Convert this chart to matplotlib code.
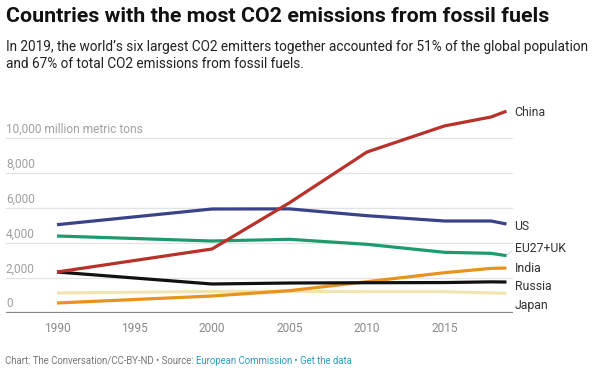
import matplotlib
matplotlib.use("Agg")
import matplotlib.pyplot as plt

plt.rcParams['font.family'] = ['Roboto', 'DejaVu Sans']

years = [1990, 2000, 2005, 2010, 2015, 2018, 2019]
china = [2343, 3657, 6300, 9200, 10690, 11200, 11535]
us = [5046, 5943, 5950, 5560, 5257, 5257, 5086]
eu = [4400, 4114, 4211, 3925, 3468, 3410, 3276]
india = [571, 971, 1276, 1790, 2303, 2550, 2570]
russia = [2343, 1657, 1714, 1730, 1740, 1780, 1771]
japan = [1143, 1230, 1240, 1219, 1220, 1150, 1126]

series = [
    ("Japan", japan, "#f3e4b4"),
    ("India", india, "#e8931e"),
    ("Russia", russia, "#111111"),
    ("EU27+UK", eu, "#1f9a6c"),
    ("US", us, "#3a4289"),
    ("China", china, "#b8312a"),
]
label_y_px = {"China": 113, "US": 226, "EU27+UK": 249, "India": 268, "Russia": 286, "Japan": 305}

yticks = [0, 2000, 4000, 6000, 8000, 10000]
ytick_labels = ["0", "2,000", "4,000", "6,000", "8,000", "10,000 million metric tons"]
xticks = [1990, 1995, 2000, 2005, 2010, 2015]

W, H = 600, 379
fig = plt.figure(figsize=(6, 3.79), dpi=100)
fig.patch.set_facecolor("white")

ax_l, ax_r, ax_t, ax_b = 6, 513, 100, 313
ax = fig.add_axes([ax_l / W, 1 - ax_b / H, (ax_r - ax_l) / W, (ax_b - ax_t) / H])
px_per_year = 15.5
x0 = 1990 - (57 - ax_l) / px_per_year
x1 = 1990 + (ax_r - 57) / px_per_year
ymax = (ax_b - ax_t) / 35 * 2000
ax.set_xlim(x0, x1)
ax.set_ylim(0, ymax)
for s in ax.spines.values():
    s.set_visible(False)
ax.set_xticks([])
ax.set_yticks([])

for v, lab in zip(yticks, ytick_labels):
    if v > 0:
        ax.axhline(v, color="#e3e3e3", lw=0.9, zorder=1)
    ax.text(x0, v + 150, lab, color="#a0a0a0", fontsize=8.6, ha="left", va="bottom")
ax.axhline(0, color="#888888", lw=1.6, zorder=5)

for name, vals, col in series:
    ax.plot(years, vals, color=col, lw=2.3, solid_capstyle="butt", zorder=3)
    ly = (ax_b - label_y_px[name]) / 35 * 2000
    ax.text(2019 + 8 / px_per_year, ly, name, color="#333333", fontsize=8.8,
            ha="left", va="center", clip_on=False)

# small connector for EU27+UK
ax.plot([2019 + 1 / px_per_year, 2019 + 5 / px_per_year], [eu[-1] + 60, (ax_b - 249) / 35 * 2000 - 150],
        color="#1f9a6c", lw=0.6, ls=":", clip_on=False)

for xt in xticks:
    fig.text((57 + (xt - 1990) * px_per_year) / W, 1 - 328 / H, str(xt), color="#8a8a8a",
             fontsize=8.6, ha="center", va="center")

fig.text(6 / W, 1 - 17 / H, "Countries with the most CO2 emissions from fossil fuels",
         fontsize=15.4, fontweight="bold", color="#111111", ha="left", va="center")
fig.text(6 / W, 1 - 47 / H,
         "In 2019, the world\u2019s six largest CO2 emitters together accounted for 51% of the global population",
         fontsize=9.8, color="#222222", ha="left", va="center")
fig.text(6 / W, 1 - 64 / H, "and 67% of total CO2 emissions from fossil fuels.",
         fontsize=9.8, color="#222222", ha="left", va="center")

# footer
parts = [("Chart: The Conversation/CC-BY-ND \u2022 Source: ", "#777777"),
         ("European Commission", "#2b9dbd"),
         (" \u2022 ", "#777777"),
         ("Get the data", "#2b9dbd")]
fig.canvas.draw()
renderer = fig.canvas.get_renderer()
xpos = 5 / W
for txt, col in parts:
    t = fig.text(xpos, 1 - 361 / H, txt, fontsize=6.9, color=col, ha="left", va="center")
    bb = t.get_window_extent(renderer=renderer)
    xpos += bb.width / W

fig.savefig("out.png", dpi=100, facecolor="white")
